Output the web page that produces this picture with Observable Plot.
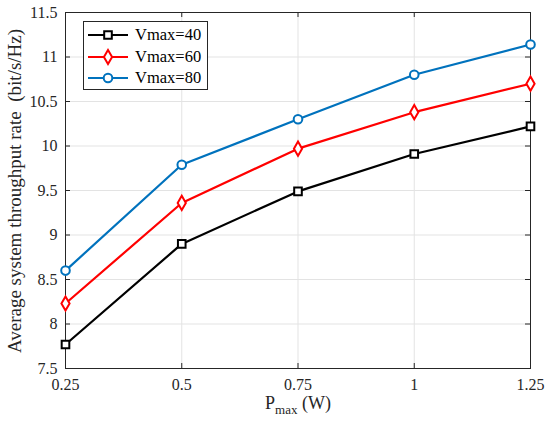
<!DOCTYPE html>
<html><head><meta charset="utf-8">
<script src="https://cdn.jsdelivr.net/npm/d3@7"></script>
<script src="https://cdn.jsdelivr.net/npm/@observablehq/plot@0.6"></script>
<style>
body{margin:0;background:#fff;}
#c{position:relative;width:550px;height:431px;font-family:"Liberation Serif",serif;color:#262626;}
#c svg text, #c span{font-family:"Liberation Serif",serif !important;}
.lab{position:absolute;white-space:nowrap;}
</style></head>
<body><div id="c"></div>
<script>
const pmax = [0.25, 0.5, 0.75, 1, 1.25];
const v40 = [7.77, 8.90, 9.49, 9.91, 10.22];
const v60 = [8.23, 9.36, 9.97, 10.38, 10.70];
const v80 = [8.60, 9.79, 10.30, 10.80, 11.14];
const seriesNames = ["Vmax=40", "Vmax=60", "Vmax=80"];
const seriesColors = ["#000000", "#ff0000", "#0072BD"];
const seriesSymbols = ["square", "diamond", "circle"];
const xTicks = [0.25, 0.5, 0.75, 1, 1.25];
const yTicks = [7.5, 8, 8.5, 9, 9.5, 10, 10.5, 11, 11.5];

const FONT = '"Liberation Serif", serif';
const W = 550, H = 431, mL = 65, mR = 20, mT = 12, mB = 63;
const fw = W - mL - mR, fh = H - mT - mB;
const vals = [v40, v60, v80];
const data = [];
vals.forEach((arr, i) => arr.forEach((v, j) => data.push({x: pmax[j], y: v, s: seriesNames[i]})));

const chart = Plot.plot({
  width: W, height: H,
  marginLeft: mL, marginRight: mR, marginTop: mT, marginBottom: mB,
  style: {fontFamily: FONT, fontSize: "16px", color: "#262626", background: "#fff"},
  x: {domain: [0.25, 1.25]},
  y: {domain: [7.5, 11.5]},
  color: {domain: seriesNames, range: seriesColors},
  symbol: {domain: seriesNames, range: seriesSymbols},
  marks: [
    Plot.gridX(xTicks, {stroke: "#e3e3e3", strokeOpacity: 1}),
    Plot.gridY(yTicks, {stroke: "#e3e3e3", strokeOpacity: 1}),
    Plot.axisX({ticks: xTicks, tickSize: 0, tickPadding: 10, label: null, tickFormat: d => String(d), fontSize: 16, fontFamily: FONT}),
    Plot.axisY({ticks: yTicks, tickSize: 0, tickPadding: 8, label: null, tickFormat: d => String(d), fontSize: 16, fontFamily: FONT}),
    Plot.tickX(xTicks, {x: d => d, stroke: "#262626", insetTop: fh - 5}),
    Plot.tickX(xTicks, {x: d => d, stroke: "#262626", insetBottom: fh - 5}),
    Plot.tickY(yTicks, {y: d => d, stroke: "#262626", insetRight: fw - 5}),
    Plot.tickY(yTicks, {y: d => d, stroke: "#262626", insetLeft: fw - 5}),
    Plot.frame({stroke: "#262626"}),
    Plot.line(data, {x: "x", y: "y", z: "s", stroke: "s", strokeWidth: 2.2}),
    Plot.dot(data, {x: "x", y: "y", symbol: "s", stroke: "s", fill: "white", r: 4.3, strokeWidth: 2})
  ]
});
d3.select(chart).selectAll("text").attr("font-family", FONT).style("font-family", FONT);
const c = document.getElementById("c");
c.appendChild(chart);

// legend
const leg = document.createElement("div");
leg.className = "lab";
leg.style.cssText = "left:83px;top:21px;width:123px;height:67px;border:1px solid #262626;background:#fff;";
seriesNames.forEach((n, i) => {
  const row = document.createElement("div");
  row.style.cssText = "position:absolute;left:0;top:" + (3 + i * 21.5) + "px;height:20px;display:flex;align-items:center;";
  const sym = d3.symbol(d3["symbol" + {square: "Square", diamond: "Diamond", circle: "Circle"}[seriesSymbols[i]]], Math.PI * 4.3 * 4.3)();
  row.innerHTML = `<svg width="50" height="20" style="display:block"><line x1="4" x2="44" y1="10" y2="10" stroke="${seriesColors[i]}" stroke-width="2.2"/><path d="${sym}" transform="translate(24,10)" fill="white" stroke="${seriesColors[i]}" stroke-width="2"/></svg><span style="font-size:16.5px;color:#000;margin-left:1px">${n}</span>`;
  leg.appendChild(row);
});
c.appendChild(leg);

// x label
const xl = document.createElement("div");
xl.className = "lab";
xl.style.cssText = "left:0;width:596px;text-align:center;top:393px;font-size:18px;color:#262626;";
xl.innerHTML = '<span>P</span><sub style="font-size:13px;vertical-align:-5px"><span>max</span></sub><span> (W)</span>';
c.appendChild(xl);

// y label
const yl = document.createElement("div");
yl.className = "lab";
yl.style.cssText = "left:15px;top:191px;font-size:19px;color:#262626;transform:translate(-50%,-50%) rotate(-90deg);white-space:pre;";
yl.innerHTML = "<span>Average system throughput rate  (bit/s/Hz)</span>";
c.appendChild(yl);
</script></body></html>
